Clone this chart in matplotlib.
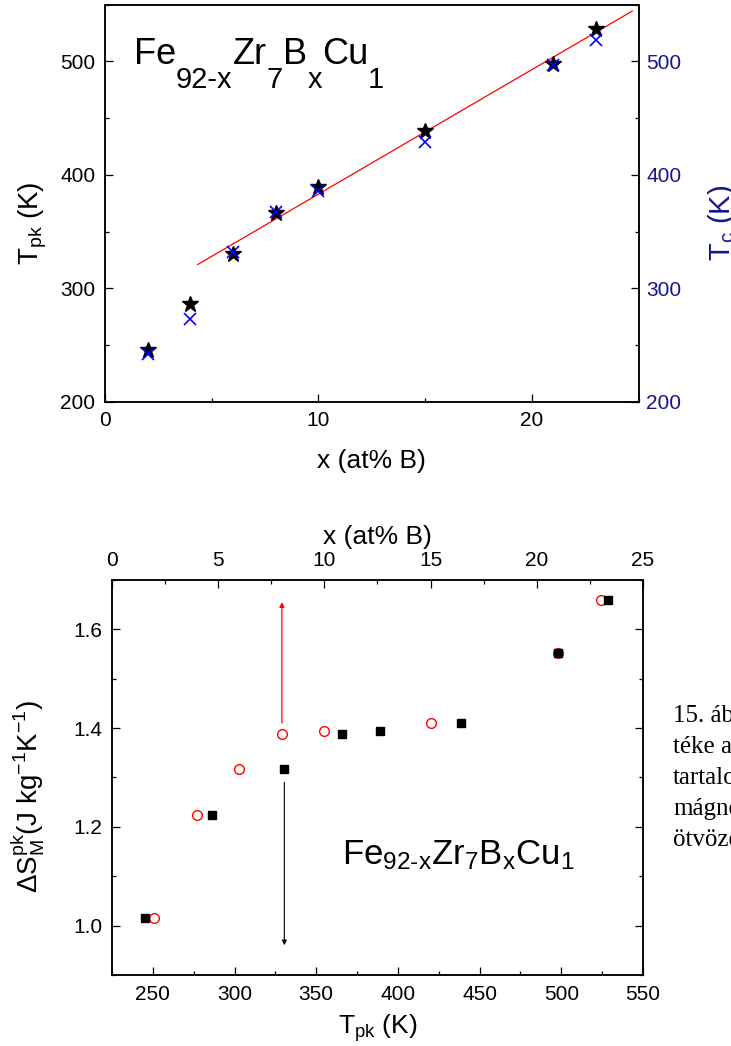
import numpy as np
import matplotlib.pyplot as plt
from matplotlib.ticker import MultipleLocator

plt.rcParams['font.family'] = ['Liberation Sans', 'DejaVu Sans']
plt.rcParams['mathtext.fontset'] = 'custom'
plt.rcParams['mathtext.rm'] = 'Liberation Sans'
plt.rcParams['mathtext.it'] = 'Liberation Sans:italic'
plt.rcParams['mathtext.bf'] = 'Liberation Sans:bold'

# boron content (at%), peak temperature, Curie temperature, peak entropy change
x_boron = [2, 4, 6, 8, 10, 15, 21, 23]
t_pk = [245.5, 286, 330.5, 366, 389, 438.5, 498, 528.5]
t_c = [242, 272.5, 332, 367, 385.5, 429, 496.5, 519]
ds_pk = [1.015, 1.224, 1.317, 1.388, 1.394, 1.410, 1.551, 1.660]

# linear fit of T_pk for x >= 6, drawn over this range
fit_from = 2
fit_x = [4.35, 24.7]

caption = ['15. ábra', 'téke a', 'tartalom', 'mágnes', 'ötvözet']

# alloy formula as (text, is_subscript) pieces
formula_parts = [('Fe', False), ('92-x', True), ('Zr', False), ('7', True),
                 ('B', False), ('x', True), ('Cu', False), ('1', True)]

navy = '#16168c'
formula = r'$\mathregular{Fe_{92\text{-}x}Zr_7B_xCu_1}$'


def style_ticks(ax, **kw):
    ax.tick_params(which='both', direction='in', width=0.9, labelsize=15, **kw)
    ax.tick_params(which='major', length=5.5)
    ax.tick_params(which='minor', length=3)


def chained_formula(ax, x, y, parts, size=26, sub_size=21, drop=16):
    # each piece is hung off the bounding box of the previous one
    t = ax.text(x, y, parts[0][0], fontsize=size, va='baseline')
    low = parts[0][1]
    for txt, sub in parts[1:]:
        dy = 0
        if sub and not low:
            dy = -drop
        elif low and not sub:
            dy = drop
        t = ax.annotate(txt, xy=(1, 0), xycoords=t, xytext=(0, dy),
                        textcoords='offset points', va='bottom', ha='left',
                        fontsize=sub_size if sub else size,
                        annotation_clip=False)
        low = sub


fig = plt.figure(figsize=(7.31, 10.46), dpi=100)

# ---- upper panel: T_pk and T_c vs boron content
ax1 = fig.add_axes([0.1435, 0.616, 0.7302, 0.3795])
ax1.plot(x_boron, t_pk, '*', color='k', ms=12, zorder=3)
fit = np.polyfit(x_boron[fit_from:], t_pk[fit_from:], 1)
xx = np.array(fit_x)
ax1.plot(xx, np.polyval(fit, xx), color='red', lw=0.9)
ax1.set_xlim(0, 25)
ax1.set_ylim(200, 550)
ax1.xaxis.set_major_locator(MultipleLocator(10))
ax1.xaxis.set_minor_locator(MultipleLocator(5))
ax1.yaxis.set_major_locator(MultipleLocator(100))
ax1.yaxis.set_minor_locator(MultipleLocator(50))
style_ticks(ax1, top=False, right=False, pad=7)
ax1.set_xlabel('x (at% B)', fontsize=19)
ax1.xaxis.set_label_coords(0.5, -0.118)
ax1.set_ylabel(r'T$_{\rm pk}$ (K)', fontsize=20)
ax1.yaxis.set_label_coords(-0.105, 0.45)
chained_formula(ax1, 1.36, 497.5, formula_parts)

ax1r = ax1.twinx()
ax1r.plot(x_boron, t_c, 'x', color='blue', ms=8, mew=1.2)
ax1r.set_ylim(200, 550)
ax1r.yaxis.set_major_locator(MultipleLocator(100))
ax1r.yaxis.set_minor_locator(MultipleLocator(50))
style_ticks(ax1r, labelcolor=navy, pad=5.5)
ax1r.set_ylabel(r'T$_{\rm c}$ (K)', fontsize=21, color=navy)
ax1r.yaxis.set_label_coords(1.127, 0.45)

# ---- lower panel: peak entropy change vs T_pk (squares) and vs x (circles)
ax2 = fig.add_axes([0.1532, 0.068, 0.7264, 0.3776])
ax2t = ax2.twiny()
ax2.set_zorder(ax2t.get_zorder() + 1)
ax2.patch.set_visible(False)

ax2.plot(t_pk, ds_pk, 's', color='k', ms=6.3)
ax2t.plot(x_boron, ds_pk, 'o', mfc='none', mec='red', ms=7, mew=1)

ax2.set_xlim(225, 550)
ax2.set_ylim(0.9, 1.7)
ax2.xaxis.set_major_locator(MultipleLocator(50))
ax2.xaxis.set_minor_locator(MultipleLocator(25))
ax2.yaxis.set_major_locator(MultipleLocator(0.2))
ax2.yaxis.set_minor_locator(MultipleLocator(0.1))
style_ticks(ax2, top=False, right=True, pad=7)
ax2.set_xlabel(r'T$_{\rm pk}$ (K)', fontsize=19)
ax2.xaxis.set_label_coords(0.5, -0.095)
ax2.set_ylabel(r'$\mathregular{\Delta S_M^{pk}}$(J kg$^{-1}$K$^{-1}$)', fontsize=20)
ax2.yaxis.set_label_coords(-0.122, 0.452)

ax2t.set_xlim(0, 25)
ax2t.xaxis.set_major_locator(MultipleLocator(5))
ax2t.xaxis.set_minor_locator(MultipleLocator(2.5))
style_ticks(ax2t, pad=7)
ax2t.set_xlabel('x (at% B)', fontsize=19)
ax2t.xaxis.set_label_coords(0.5, 1.09)

# arrows pointing each series to its own x axis
ax2t.annotate('', xy=(x_boron[3], 1.655), xytext=(x_boron[3], 1.41),
              arrowprops=dict(arrowstyle='-|>', color='red', lw=0.9,
                              mutation_scale=7, shrinkA=0, shrinkB=0))
ax2.annotate('', xy=(t_pk[2], 0.96), xytext=(t_pk[2], 1.29),
             arrowprops=dict(arrowstyle='-|>', color='k', lw=0.8,
                             mutation_scale=7, shrinkA=0, shrinkB=0))
ax2.text(366, 1.123, formula, fontsize=25)

for ax in (ax1, ax1r, ax2, ax2t):
    for sp in ax.spines.values():
        sp.set_linewidth(1.1)

for i, line in enumerate(caption):
    fig.text(673 / 731, 1 - (722 + 31 * i) / 1046, line, fontsize=18,
             family=['Liberation Serif', 'DejaVu Serif'], va='baseline')

fig.savefig('out.png', dpi=100)
